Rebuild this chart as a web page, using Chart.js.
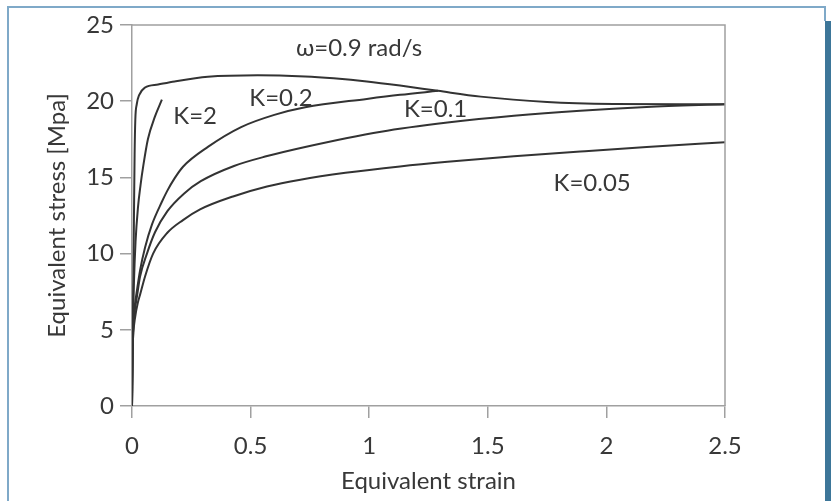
<!DOCTYPE html>
<html>
<head>
<meta charset="utf-8">
<script src="https://cdn.jsdelivr.net/npm/chart.js@4.4.1/dist/chart.umd.min.js"></script>
<style>
  html, body { margin: 0; padding: 0; background: #fff; }
  #wrap { position: relative; width: 831px; height: 501px; overflow: hidden; }
  #c { position: absolute; left: 0; top: 0; }
  .frame-top { position: absolute; left: 7px; top: 6px; width: 819px; height: 2px; background: #7fa9c8; }
  .frame-left { position: absolute; left: 7px; top: 6px; width: 2px; height: 495px; background: #7fa9c8; }
  .frame-rt { position: absolute; left: 824px; top: 6px; width: 2px; height: 15px; background: #7fa9c8; }
  .strip { position: absolute; left: 825px; top: 21px; width: 6px; height: 480px; background: #3d7699; }
</style>
</head>
<body>
<div id="wrap">
  <canvas id="c" width="831" height="501"></canvas>
  <div class="frame-top"></div>
  <div class="frame-left"></div>
  <div class="frame-rt"></div>
  <div class="strip"></div>
</div>
<script>
// ---- DADOS ----
var xTicks = [0, 0.5, 1, 1.5, 2, 2.5];
var xTickLabels = ['0', '0.5', '1', '1.5', '2', '2.5'];
var yTicks = [0, 5, 10, 15, 20, 25];

// curva superior (sem rotulo)
var topX = [0, 0.004, 0.008, 0.011, 0.014, 0.02, 0.03, 0.055, 0.11, 0.18, 0.32, 0.53, 0.73, 0.85, 0.99, 1.13, 1.29, 1.47, 1.75, 2.03, 2.31, 2.5];
var topY = [0, 6, 12, 16.5, 18.8, 19.8, 20.4, 20.9, 21.1, 21.3, 21.6, 21.7, 21.62, 21.5, 21.3, 21.03, 20.68, 20.3, 19.95, 19.82, 19.8, 19.8];

// K=2
var k2X = [0, 0.003, 0.008, 0.015, 0.025, 0.036, 0.048, 0.067, 0.097, 0.126];
var k2Y = [0, 4.5, 8, 10.8, 13, 14.5, 15.8, 17.5, 19.0, 20.1];

// K=0.2
var k02X = [0, 0.002, 0.006, 0.012, 0.021, 0.034, 0.055, 0.084, 0.126, 0.148, 0.18, 0.215, 0.32, 0.46, 0.60, 0.73, 0.99, 1.13, 1.29];
var k02Y = [0, 3.5, 5.5, 6.6, 7.6, 8.9, 10.4, 11.9, 13.4, 14.1, 14.95, 15.7, 17.0, 18.3, 19.1, 19.6, 20.15, 20.42, 20.68];

// K=0.1
var k01X = [0, 0.002, 0.006, 0.012, 0.021, 0.034, 0.063, 0.097, 0.15, 0.22, 0.29, 0.43, 0.57, 0.73, 1.05, 1.33, 1.61, 1.89, 2.17, 2.5];
var k01Y = [0, 3.5, 5.3, 6.3, 7.2, 8.5, 10.0, 11.4, 12.8, 13.95, 14.75, 15.75, 16.4, 17.0, 18.0, 18.6, 19.05, 19.38, 19.62, 19.8];

// K=0.05
var k005X = [0, 0.002, 0.006, 0.013, 0.025, 0.034, 0.055, 0.089, 0.148, 0.215, 0.287, 0.426, 0.569, 0.71, 0.9, 1.13, 1.33, 1.61, 1.89, 2.17, 2.5];
var k005Y = [0, 3.2, 4.8, 5.8, 6.8, 7.3, 8.5, 10.0, 11.35, 12.2, 12.9, 13.75, 14.4, 14.85, 15.3, 15.72, 16.02, 16.38, 16.7, 17.0, 17.3];

// rotulos no grafico (texto, x, y em unidades dos eixos)
var noteText = ['\u03c9=0.9 rad/s', 'K=2', 'K=0.2', 'K=0.1', 'K=0.05'];
var noteX    = [0.957, 0.266, 0.628, 1.28, 1.94];
var noteY    = [23.5, 19.0, 20.2, 19.5, 14.6];

var FONT = 'Lato, "Open Sans", sans-serif';
var INK = '#383838';
var AXIS = '#a0a0a0';

function pts(xs, ys) {
  return xs.map(function(x, i) { return { x: x, y: ys[i] }; });
}
function serie(label, xs, ys) {
  return {
    label: label, data: pts(xs, ys), showLine: true,
    borderColor: '#333', borderWidth: 2, pointRadius: 0,
    cubicInterpolationMode: 'monotone', fill: false
  };
}

// ---- PLUGIN: moldura do plot + anotacoes ----
var extras = {
  id: 'extras',
  afterDatasetsDraw: function(chart) {
    var ctx = chart.ctx, a = chart.chartArea;
    var sx = chart.scales.x, sy = chart.scales.y;
    ctx.save();
    ctx.strokeStyle = AXIS;
    ctx.lineWidth = 1.5;
    ctx.beginPath();
    ctx.moveTo(a.left, a.top); ctx.lineTo(a.right, a.top); ctx.lineTo(a.right, a.bottom);
    ctx.stroke();
    ctx.fillStyle = INK;
    ctx.font = '24px ' + FONT;
    ctx.textAlign = 'center';
    ctx.textBaseline = 'middle';
    noteText.forEach(function(t, i) {
      ctx.fillText(t, sx.getPixelForValue(noteX[i]), sy.getPixelForValue(noteY[i]));
    });
    ctx.restore();
  }
};

new Chart(document.getElementById('c'), {
  type: 'scatter',
  data: {
    datasets: [
      serie('top', topX, topY),
      serie('K=2', k2X, k2Y),
      serie('K=0.2', k02X, k02Y),
      serie('K=0.1', k01X, k01Y),
      serie('K=0.05', k005X, k005Y)
    ]
  },
  options: {
    responsive: false,
    devicePixelRatio: 1,
    animation: false,
    layout: { padding: { left: 0, right: 106, top: 25, bottom: 0 } },
    plugins: { legend: { display: false }, tooltip: { enabled: false } },
    scales: {
      x: {
        type: 'linear', min: 0, max: 2.5,
        afterFit: function(s) { s.height = 95; },
        afterBuildTicks: function(s) { s.ticks = xTicks.map(function(v) { return { value: v }; }); },
        grid: { drawOnChartArea: false, drawTicks: true, tickLength: 12, color: AXIS, lineWidth: 1.5 },
        border: { display: true, color: AXIS, width: 1.5 },
        ticks: { color: INK, padding: 14, maxRotation: 0, font: { family: FONT, size: 24 },
                 callback: function(v, i) { return xTickLabels[i]; } },
        title: { display: true, text: 'Equivalent strain', color: INK, padding: { top: 0, bottom: 5 },
                 font: { family: FONT, size: 24 } }
      },
      y: {
        type: 'linear', min: 0, max: 25,
        afterFit: function(s) { s.width = 132; },
        afterBuildTicks: function(s) { s.ticks = yTicks.map(function(v) { return { value: v }; }); },
        grid: { drawOnChartArea: false, drawTicks: true, tickLength: 12, color: AXIS, lineWidth: 1.5 },
        border: { display: true, color: AXIS, width: 1.5 },
        ticks: { color: INK, padding: 6, font: { family: FONT, size: 24 } },
        title: { display: true, text: 'Equivalent stress [Mpa]', color: INK, padding: { top: 43, bottom: 0 },
                 font: { family: FONT, size: 24 } }
      }
    }
  },
  plugins: [extras]
});
</script>
</body>
</html>
